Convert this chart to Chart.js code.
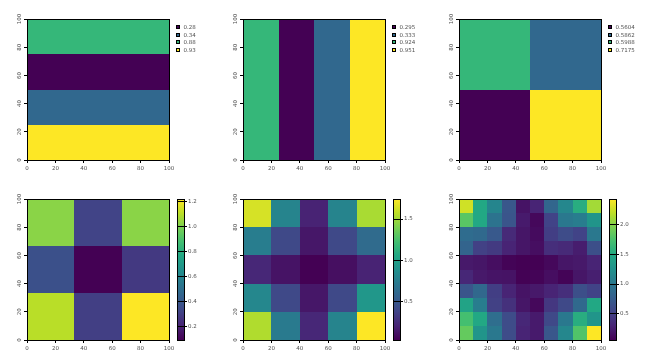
<!DOCTYPE html>
<html><head><meta charset="utf-8">
<script src="https://cdn.jsdelivr.net/npm/chart.js@4/dist/chart.umd.min.js"></script>
<style>
html,body{margin:0;padding:0;background:#fff;}
#wrap{position:relative;width:648px;height:360px;overflow:hidden;background:#fff;}
canvas{position:absolute;}
</style></head><body><div id="wrap"></div>
<script>
// ---------- data ----------
const axisTicks = [0, 20, 40, 60, 80, 100];

// top row: discrete heatmaps, rows listed from top to bottom
const p1Cells = [[0.88], [0.28], [0.34], [0.93]];
const p1Legend = ['0.28', '0.34', '0.88', '0.93'];
const p2Cells = [[0.924, 0.295, 0.333, 0.951]];
const p2Legend = ['0.295', '0.333', '0.924', '0.951'];
const p3Cells = [[0.5988, 0.5862], [0.5604, 0.7175]];
const p3Legend = ['0.5604', '0.5862', '0.5988', '0.7175'];

// bottom row: continuous heatmaps, rows listed from top to bottom
const p4Cells = [
  [1.02, 0.32, 1.02],
  [0.37, 0.093, 0.28],
  [1.10, 0.30, 1.219]
];
const p4CbTicks = [0.2, 0.4, 0.6, 0.8, 1.0, 1.2];

const p5Cells = [
  [1.64, 0.80, 0.20, 0.80, 1.52],
  [0.75, 0.41, 0.14, 0.41, 0.63],
  [0.22, 0.12, 0.034, 0.10, 0.20],
  [0.82, 0.41, 0.14, 0.41, 0.93],
  [1.54, 0.73, 0.22, 0.80, 1.743]
];
const p5CbTicks = [0.5, 1.0, 1.5];

const p6Cells = [
  [2.26, 1.48, 1.13, 0.70, 0.18, 0.30, 0.84, 1.15, 1.53, 2.10],
  [1.81, 1.48, 0.96, 0.68, 0.23, 0.11, 0.53, 1.01, 1.06, 1.29],
  [0.89, 0.87, 0.72, 0.34, 0.20, 0.13, 0.49, 0.60, 0.53, 1.01],
  [0.82, 0.51, 0.46, 0.30, 0.20, 0.15, 0.37, 0.34, 0.25, 0.63],
  [0.22, 0.20, 0.15, 0.08, 0.06, 0.06, 0.11, 0.20, 0.22, 0.30],
  [0.32, 0.22, 0.19, 0.18, 0.07, 0.08, 0.15, 0.08, 0.20, 0.26],
  [0.68, 0.86, 0.49, 0.30, 0.18, 0.22, 0.30, 0.37, 0.63, 0.53],
  [1.43, 1.06, 0.51, 0.39, 0.20, 0.11, 0.44, 0.58, 0.87, 1.48],
  [1.72, 1.48, 0.91, 0.60, 0.32, 0.23, 0.58, 1.01, 1.53, 1.29],
  [1.86, 1.29, 1.01, 0.60, 0.30, 0.23, 0.70, 1.15, 1.77, 2.43]
];
const p6CbTicks = [0.5, 1.0, 1.5, 2.0];

// ---------- styling ----------
const VIR = ['#440154','#482475','#414487','#355f8d','#2a788e','#21918c','#22a884','#44bf70','#7ad151','#bddf26','#fde725'];
const DISCRETE = ['#440154', '#31688e', '#35b779', '#fde725'];
const FONT = {family: 'DejaVu Sans', size: 5.5};
const TXT = '#505050';
const CELL_W = 216, CELL_H = 180;

function hexToRgb(h){ return [parseInt(h.substr(1,2),16), parseInt(h.substr(3,2),16), parseInt(h.substr(5,2),16)]; }
function viridis(t){
  t = Math.max(0, Math.min(1, t));
  const p = t * 10, i = Math.min(9, Math.floor(p)), f = p - i;
  const a = hexToRgb(VIR[i]), b = hexToRgb(VIR[i + 1]);
  const c = a.map((v, k) => Math.round(v + (b[k] - v) * f));
  return 'rgb(' + c.join(',') + ')';
}

const wrap = document.getElementById('wrap');
function addCanvas(left, top, w, h){
  const c = document.createElement('canvas');
  c.width = w; c.height = h;
  c.style.left = left + 'px'; c.style.top = top + 'px';
  c.style.width = w + 'px'; c.style.height = h + 'px';
  wrap.appendChild(c);
  return c;
}

function cellsToPoints(cells){
  const nr = cells.length, nc = cells[0].length, pts = [];
  cells.forEach((row, r) => row.forEach((v, c) => {
    const x0 = c * 100 / nc, x1 = (c + 1) * 100 / nc;
    const y1 = 100 - r * 100 / nr, y0 = 100 - (r + 1) * 100 / nr;
    pts.push({x: (x0 + x1) / 2, y: (y0 + y1) / 2, v: v, x0: x0, x1: x1, y0: y0, y1: y1});
  }));
  return pts;
}

const heatPlugin = {
  id: 'heat',
  beforeDatasetsDraw(chart, args, opts){
    const ctx = chart.ctx, xs = chart.scales.x, ys = chart.scales.y;
    ctx.save();
    chart.data.datasets[0].data.forEach(p => {
      const a = Math.round(xs.getPixelForValue(p.x0)), b = Math.round(xs.getPixelForValue(p.x1));
      const t = Math.round(ys.getPixelForValue(p.y1)), bt = Math.round(ys.getPixelForValue(p.y0));
      ctx.fillStyle = opts.colorOf(p.v);
      ctx.fillRect(a, t, b - a + 0.5, bt - t + 0.5);
    });
    ctx.restore();
  },
  afterDatasetsDraw(chart){
    const ctx = chart.ctx, ca = chart.chartArea;
    ctx.save();
    ctx.strokeStyle = '#000'; ctx.lineWidth = 1;
    ctx.strokeRect(ca.left + 0.5, ca.top + 0.5, ca.right - ca.left, ca.bottom - ca.top);
    ctx.restore();
  },
  afterDraw(chart, args, opts){
    if (!opts.legend) return;
    const ctx = chart.ctx;
    ctx.save();
    ctx.font = FONT.size + 'px "' + FONT.family + '"';
    ctx.textBaseline = 'middle'; ctx.textAlign = 'left';
    opts.legend.forEach((lab, i) => {
      const y = 25 + Math.round(i * 7.6);
      ctx.fillStyle = DISCRETE[i];
      ctx.fillRect(176, y, 4, 4);
      ctx.strokeStyle = '#000'; ctx.lineWidth = 1;
      ctx.strokeRect(176.5, y + 0.5, 3, 3);
      ctx.fillStyle = TXT;
      ctx.fillText(lab, 183.5, y + 2.2);
    });
    ctx.restore();
  }
};

function axisCfg(isY){
  return {
    type: 'linear', min: 0, max: 100,
    position: isY ? 'left' : 'bottom',
    afterBuildTicks: s => { s.ticks = axisTicks.map(v => ({value: v})); },
    afterFit: s => { if (isY) s.width = 27; else s.height = 20; },
    grid: {display: true, drawOnChartArea: false, drawTicks: true, tickLength: 3, color: '#000', lineWidth: 1},
    border: {display: true, color: '#000', width: 1},
    ticks: isY
      ? {font: FONT, color: TXT, padding: -1, minRotation: 90, maxRotation: 90, crossAlign: 'center', autoSkip: false}
      : {font: FONT, color: TXT, padding: 2, minRotation: 0, maxRotation: 0, autoSkip: false}
  };
}

function makePanel(col, row, cells, colorOf, legend){
  const cv = addCanvas(col * CELL_W, row * CELL_H, CELL_W, CELL_H);
  return new Chart(cv, {
    type: 'scatter',
    data: {datasets: [{data: cellsToPoints(cells), pointRadius: 0, pointHoverRadius: 0}]},
    options: {
      responsive: false, animation: false, devicePixelRatio: 1, events: [],
      layout: {padding: {left: 0, top: 19, right: 47, bottom: 0}},
      plugins: {legend: {display: false}, tooltip: {enabled: false}, heat: {colorOf: colorOf, legend: legend || null}},
      scales: {x: axisCfg(false), y: axisCfg(true)}
    },
    plugins: [heatPlugin]
  });
}

const cbPlugin = {
  id: 'cb',
  beforeDraw(chart){
    const ctx = chart.ctx, ca = chart.chartArea;
    const g = ctx.createLinearGradient(0, ca.bottom, 0, ca.top);
    VIR.forEach((c, i) => g.addColorStop(i / 10, c));
    ctx.save(); ctx.fillStyle = g;
    ctx.fillRect(ca.left, ca.top, ca.right - ca.left, ca.bottom - ca.top);
    ctx.restore();
  },
  afterDraw(chart){
    const ctx = chart.ctx, ca = chart.chartArea;
    ctx.save(); ctx.strokeStyle = '#000'; ctx.lineWidth = 1;
    ctx.strokeRect(ca.left + 0.5, ca.top + 0.5, ca.right - ca.left, ca.bottom - ca.top);
    ctx.restore();
  }
};

function makeColorbar(col, row, vmin, vmax, ticks){
  const cv = addCanvas(col * CELL_W + 170, row * CELL_H, 46, CELL_H);
  return new Chart(cv, {
    type: 'scatter',
    data: {datasets: []},
    options: {
      responsive: false, animation: false, devicePixelRatio: 1, events: [],
      layout: {padding: {left: 7, top: 19, right: 0, bottom: 20}},
      plugins: {legend: {display: false}, tooltip: {enabled: false}},
      scales: {
        x: {display: false, min: 0, max: 1},
        y: {
          position: 'right', min: vmin, max: vmax,
          afterBuildTicks: s => { s.ticks = ticks.map(v => ({value: v})); },
          afterFit: s => { s.width = 32; },
          grid: {display: true, drawOnChartArea: true, drawTicks: true, tickLength: 3, color: '#000', lineWidth: 1},
          border: {display: false},
          ticks: {font: FONT, color: TXT, padding: 1, autoSkip: false, callback: v => Number(v).toFixed(1)}
        }
      }
    },
    plugins: [cbPlugin]
  });
}

function discreteColor(legend){
  const vals = legend.map(Number);
  return v => DISCRETE[vals.indexOf(v)];
}
function contColor(cells){
  const flat = cells.flat(), mn = Math.min(...flat), mx = Math.max(...flat);
  return {fn: v => viridis((v - mn) / (mx - mn)), mn: mn, mx: mx};
}

makePanel(0, 0, p1Cells, discreteColor(p1Legend), p1Legend);
makePanel(1, 0, p2Cells, discreteColor(p2Legend), p2Legend);
makePanel(2, 0, p3Cells, discreteColor(p3Legend), p3Legend);

[[p4Cells, p4CbTicks], [p5Cells, p5CbTicks], [p6Cells, p6CbTicks]].forEach((d, i) => {
  const c = contColor(d[0]);
  makePanel(i, 1, d[0], c.fn, null);
  makeColorbar(i, 1, c.mn, c.mx, d[1]);
});
</script></body></html>
